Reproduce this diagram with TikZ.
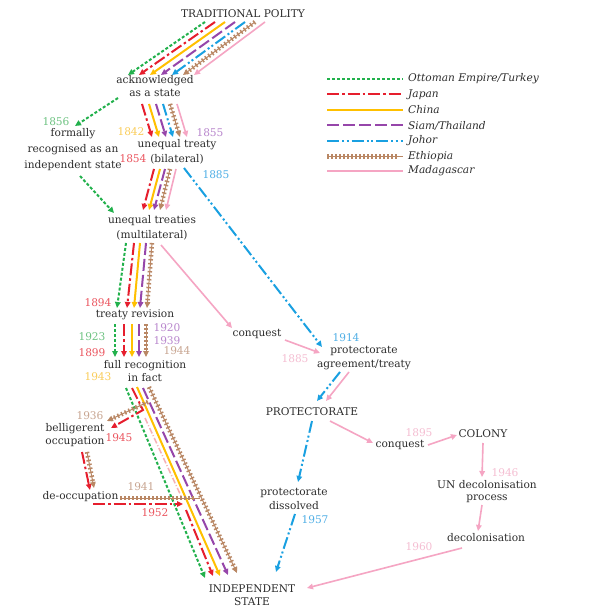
\documentclass[tikz,border=0pt]{standalone}
\usepackage{fontspec}
\setmainfont{DejaVu Serif}
\usetikzlibrary{arrows.meta}
\definecolor{txtc}{RGB}{45,45,45}
\definecolor{ottc}{RGB}{34,177,76}
\definecolor{japc}{RGB}{230,30,45}
\definecolor{chic}{RGB}{255,192,0}
\definecolor{siac}{RGB}{150,70,170}
\definecolor{johc}{RGB}{25,160,225}
\definecolor{ethc}{RGB}{185,135,100}
\definecolor{madc}{RGB}{245,165,195}
\definecolor{yott}{RGB}{110,195,130}
\definecolor{yjap}{RGB}{235,85,95}
\definecolor{ychi}{RGB}{250,205,90}
\definecolor{ysia}{RGB}{185,135,205}
\definecolor{yjoh}{RGB}{80,175,230}
\definecolor{yeth}{RGB}{200,165,145}
\definecolor{ymad}{RGB}{245,190,210}
\begin{document}
\begin{tikzpicture}[x=1pt,y=-1pt,
  >={Triangle[length=6pt,width=5.5pt]},
  txt/.style={text=txtc,inner sep=0pt,align=center,font=\fontsize{10.6}{13.5}\selectfont},
  yr/.style={inner sep=0pt,font=\fontsize{10.6}{13}\selectfont},
  leg/.style={text=txtc,inner sep=0pt,anchor=west,font=\fontsize{10.6}{13}\selectfont\itshape},
  ott/.style={draw=ottc,line width=2pt,dash pattern=on 3pt off 2pt},
  jap/.style={draw=japc,line width=2pt,dash pattern=on 12pt off 3pt on 2.5pt off 3pt},
  chi/.style={draw=chic,line width=2pt},
  sia/.style={draw=siac,line width=2pt,dash pattern=on 12pt off 4pt},
  joh/.style={draw=johc,line width=2pt,dash pattern=on 12pt off 3pt on 2pt off 2.5pt on 2pt off 3pt},
  eth/.style={draw=ethc,line width=1pt,preaction={draw=ethc,line width=4.5pt,dash pattern=on 1.5pt off 2.5pt,arrows=-,shorten >=4pt}},
  mad/.style={draw=madc,line width=1.6pt},
  faint/.style={draw=japc!35,line width=1.5pt,dash pattern=on 6pt off 2pt on 1pt off 2pt}
]
\fill[white] (0,0) rectangle (588,609);
\useasboundingbox (0,0) rectangle (588,609);

% ---------- nodes ----------
\node[txt,font=\fontsize{10.6}{13}\selectfont] (trad) at (243,14) {TRADITIONAL POLITY};
\node[txt] (ack) at (155,86) {acknowledged\\as a state};
\node[txt,font=\fontsize{10.6}{16}\selectfont] (formal) at (73,150) {formally\\recognised as an\\independent state};
\node[txt,font=\fontsize{10.6}{14.5}\selectfont] (bilat) at (177,152) {unequal treaty\\(bilateral)};
\node[txt,font=\fontsize{10.6}{15}\selectfont] (multi) at (152,228) {unequal treaties\\(multilateral)};
\node[txt] (rev) at (135,315) {treaty revision};
\node[txt] (fullrec) at (145,371) {full recognition\\in fact};
\node[txt] (conq1) at (257,334) {conquest};
\node[txt] (protag) at (364,358) {protectorate\\agreement/treaty};
\node[txt] (prot) at (312,412) {PROTECTORATE};
\node[txt] (conq2) at (400,445) {conquest};
\node[txt] (colony) at (483,434) {COLONY};
\node[txt,font=\fontsize{10.6}{12}\selectfont] (un) at (487,492) {UN decolonisation\\process};
\node[txt] (decol) at (486,538) {decolonisation};
\node[txt,font=\fontsize{10.6}{14}\selectfont] (dissolved) at (294,499) {protectorate\\dissolved};
\node[txt] (bellig) at (75,435) {belligerent\\occupation};
\node[txt] (deocc) at (80.5,497) {de-occupation};
\node[txt] (indep) at (252,595) {INDEPENDENT\\STATE};

% ---------- years ----------
\node[yr,text=yott] (y1856) at (56,122) {1856};
\node[yr,text=ychi] (y1842) at (131,132) {1842};
\node[yr,text=ysia] (y1855) at (210,133) {1855};
\node[yr,text=yjap] (y1854) at (133,159) {1854};
\node[yr,text=yjoh] (y1885b) at (216,175) {1885};
\node[yr,text=yjap] (y1894) at (98,303) {1894};
\node[yr,text=yott] (y1923) at (92,337) {1923};
\node[yr,text=yjap] (y1899) at (92,353) {1899};
\node[yr,text=ysia] (y1920) at (167,328) {1920};
\node[yr,text=ysia] (y1939) at (167,341) {1939};
\node[yr,text=yeth] (y1944) at (177,351) {1944};
\node[yr,text=ychi] (y1943) at (98,377) {1943};
\node[yr,text=yjoh] (y1914) at (346,338) {1914};
\node[yr,text=ymad] (y1885m) at (295,359) {1885};
\node[yr,text=ymad] (y1895) at (419,433) {1895};
\node[yr,text=ymad] (y1946) at (505,473) {1946};
\node[yr,text=ymad] (y1960) at (419,547) {1960};
\node[yr,text=yjoh] (y1957) at (315,520) {1957};
\node[yr,text=yeth] (y1936) at (90,416) {1936};
\node[yr,text=yjap] (y1945) at (119,438) {1945};
\node[yr,text=yeth] (y1941) at (141,487) {1941};
\node[yr,text=yjap] (y1952) at (155,513) {1952};

% ---------- legend ----------
\coordinate (l1a) at (327,79);  \coordinate (l1b) at (403,79);
\coordinate (l2a) at (327,94.5);\coordinate (l2b) at (403,94.5);
\coordinate (l3a) at (327,110); \coordinate (l3b) at (403,110);
\coordinate (l4a) at (327,125.5);\coordinate (l4b) at (403,125.5);
\coordinate (l5a) at (327,141); \coordinate (l5b) at (403,141);
\coordinate (l6a) at (327,156.5);\coordinate (l6b) at (403,156.5);
\coordinate (l7a) at (327,171); \coordinate (l7b) at (403,171);
\path[ott] (l1a) -- (l1b); \node[leg] (t1) at (408,79) {Ottoman Empire/Turkey};
\path[jap] (l2a) -- (l2b); \node[leg] (t2) at (408,94.5) {Japan};
\path[chi] (l3a) -- (l3b); \node[leg] (t3) at (408,110) {China};
\path[sia] (l4a) -- (l4b); \node[leg] (t4) at (408,125.5) {Siam/Thailand};
\path[joh] (l5a) -- (l5b); \node[leg] (t5) at (408,141) {Johor};
\path[eth] (l6a) -- (l6b); \node[leg] (t6) at (408,156.5) {Ethiopia};
\path[mad] (l7a) -- (l7b); \node[leg] (t7) at (408,171) {Madagascar};

% ---------- bundle 1: traditional -> acknowledged ----------
\path[ott,->] ([shift={(-38,8)}]trad.center) -- ([shift={(-27,-11)}]ack.center);
\path[jap,->] ([shift={(-28,8)}]trad.center) -- ([shift={(-16,-11)}]ack.center);
\path[chi,->] ([shift={(-18,8)}]trad.center) -- ([shift={(-5,-11)}]ack.center);
\path[sia,->] ([shift={(-8,8)}]trad.center) -- ([shift={(6,-11)}]ack.center);
\path[joh,->] ([shift={(2,8)}]trad.center) -- ([shift={(17,-11)}]ack.center);
\path[eth,->] ([shift={(12,8)}]trad.center) -- ([shift={(28,-11)}]ack.center);
\path[mad,->] ([shift={(22,8)}]trad.center) -- ([shift={(39,-11)}]ack.center);

% ---------- acknowledged -> formally / bilateral ----------
\path[ott,->] ([shift={(-37,12)}]ack.center) -- ([shift={(2,-24)}]formal.center);
\path[ott,->] ([shift={(7,26)}]formal.center) -- ([shift={(-38,-15)}]multi.center);
\path[jap,->] ([shift={(-13,18)}]ack.center) -- ([shift={(-25,-15)}]bilat.center);
\path[chi,->] ([shift={(-6,18)}]ack.center) -- ([shift={(-18,-15)}]bilat.center);
\path[sia,->] ([shift={(1,18)}]ack.center) -- ([shift={(-11,-15)}]bilat.center);
\path[joh,->] ([shift={(8,18)}]ack.center) -- ([shift={(-4,-15)}]bilat.center);
\path[eth,->] ([shift={(15,18)}]ack.center) -- ([shift={(3,-15)}]bilat.center);
\path[mad,->] ([shift={(22,18)}]ack.center) -- ([shift={(10,-15)}]bilat.center);

% ---------- bilateral -> multilateral ----------
\path[jap,->] ([shift={(-23,17)}]bilat.center) -- ([shift={(-9,-18)}]multi.center);
\path[chi,->] ([shift={(-17,17)}]bilat.center) -- ([shift={(-3,-18)}]multi.center);
\path[sia,->] ([shift={(-12,17)}]bilat.center) -- ([shift={(2,-18)}]multi.center);
\path[eth,->] ([shift={(-7,17)}]bilat.center) -- ([shift={(8,-18)}]multi.center);
\path[mad,->] ([shift={(-1,17)}]bilat.center) -- ([shift={(14,-18)}]multi.center);
\path[joh,->] ([shift={(7,16)}]bilat.center) -- ([shift={(-42,-11)}]protag.center);

% ---------- multilateral -> revision / conquest ----------
\path[ott,->] ([shift={(-26,15)}]multi.center) -- ([shift={(-18,-7)}]rev.center);
\path[jap,->] ([shift={(-18,15)}]multi.center) -- ([shift={(-8,-7)}]rev.center);
\path[chi,->] ([shift={(-12,15)}]multi.center) -- ([shift={(-1,-7)}]rev.center);
\path[sia,->] ([shift={(-6,15)}]multi.center) -- ([shift={(5,-7)}]rev.center);
\path[eth,->] ([shift={(0,15)}]multi.center) -- ([shift={(12,-7)}]rev.center);
\path[mad,->] ([shift={(9,17)}]multi.center) -- ([shift={(-25,-6)}]conq1.center);

% ---------- revision -> full recognition ----------
\path[ott,->] ([shift={(-20,9)}]rev.center) -- ([shift={(-30,-14)}]fullrec.center);
\path[jap,->] ([shift={(-11,9)}]rev.center) -- ([shift={(-21,-14)}]fullrec.center);
\path[chi,->] ([shift={(-3,9)}]rev.center) -- ([shift={(-13,-14)}]fullrec.center);
\path[sia,->] ([shift={(4,9)}]rev.center) -- ([shift={(-6,-14)}]fullrec.center);
\path[eth,->] ([shift={(11,9)}]rev.center) -- ([shift={(1,-14)}]fullrec.center);

% ---------- full recognition -> independent state ----------
\path[faint] ([shift={(0,47)}]fullrec.center) -- ([shift={(36,125)}]fullrec.center);
\path[ott,->] ([shift={(-19,17)}]fullrec.center) -- ([shift={(-47,-17)}]indep.center);
\path[chi,->] ([shift={(-8,16)}]fullrec.center) -- ([shift={(-32,-19)}]indep.center);
\path[sia,->] ([shift={(-2,17)}]fullrec.center) -- ([shift={(-24,-20)}]indep.center);
\path[eth,->] ([shift={(4,16)}]fullrec.center) -- ([shift={(-15,-22)}]indep.center);
% Japan and Ethiopia to belligerent occupation
\path[eth,->] ([shift={(3,31)}]fullrec.center) -- ([shift={(32,-14)}]bellig.center);
\path[jap,->] ([shift={(-13,17)}]fullrec.center) -- ([shift={(-2,39)}]fullrec.center) -- ([shift={(36,-7)}]bellig.center);
% belligerent -> de-occupation
\path[jap,->] ([shift={(7,17)}]bellig.center) -- ([shift={(9.5,-7)}]deocc.center);
\path[eth,->] ([shift={(12,17)}]bellig.center) -- ([shift={(13.5,-9)}]deocc.center);
% de-occupation -> back into the bundle
\coordinate (e41) at (200,498);
\coordinate (j52) at (183,504);
\path[eth] ([shift={(39.5,1)}]deocc.center) -- (e41);
\path[jap,->] ([shift={(12.5,7)}]deocc.center) -- (j52);
\path[jap,->] ([shift={(3,6)}]j52) -- ([shift={(-39,-19)}]indep.center);

% ---------- Johor / Madagascar to protectorate ----------
\path[mad,->] ([shift={(28,6)}]conq1.center) -- ([shift={(-44,-5)}]protag.center);
\path[joh,->] ([shift={(-24,14)}]protag.center) -- ([shift={(5,-11)}]prot.center);
\path[mad,->] ([shift={(-15,14)}]protag.center) -- ([shift={(14,-11)}]prot.center);
\path[joh,->] ([shift={(0,9)}]prot.center) -- ([shift={(4,-17)}]dissolved.center);
\path[joh,->] ([shift={(1,15)}]dissolved.center) -- ([shift={(24,-23)}]indep.center);
\path[mad,->] ([shift={(18,9)}]prot.center) -- ([shift={(-27,-2)}]conq2.center);
\path[mad,->] ([shift={(28,0)}]conq2.center) -- ([shift={(-26,1)}]colony.center);
\path[mad,->] ([shift={(0,9)}]colony.center) -- ([shift={(-5,-15)}]un.center);
\path[mad,->] ([shift={(-5,13)}]un.center) -- ([shift={(-8,-7)}]decol.center);
\path[mad,->] ([shift={(-24,10)}]decol.center) -- ([shift={(55,-7)}]indep.center);
\end{tikzpicture}
\end{document}
